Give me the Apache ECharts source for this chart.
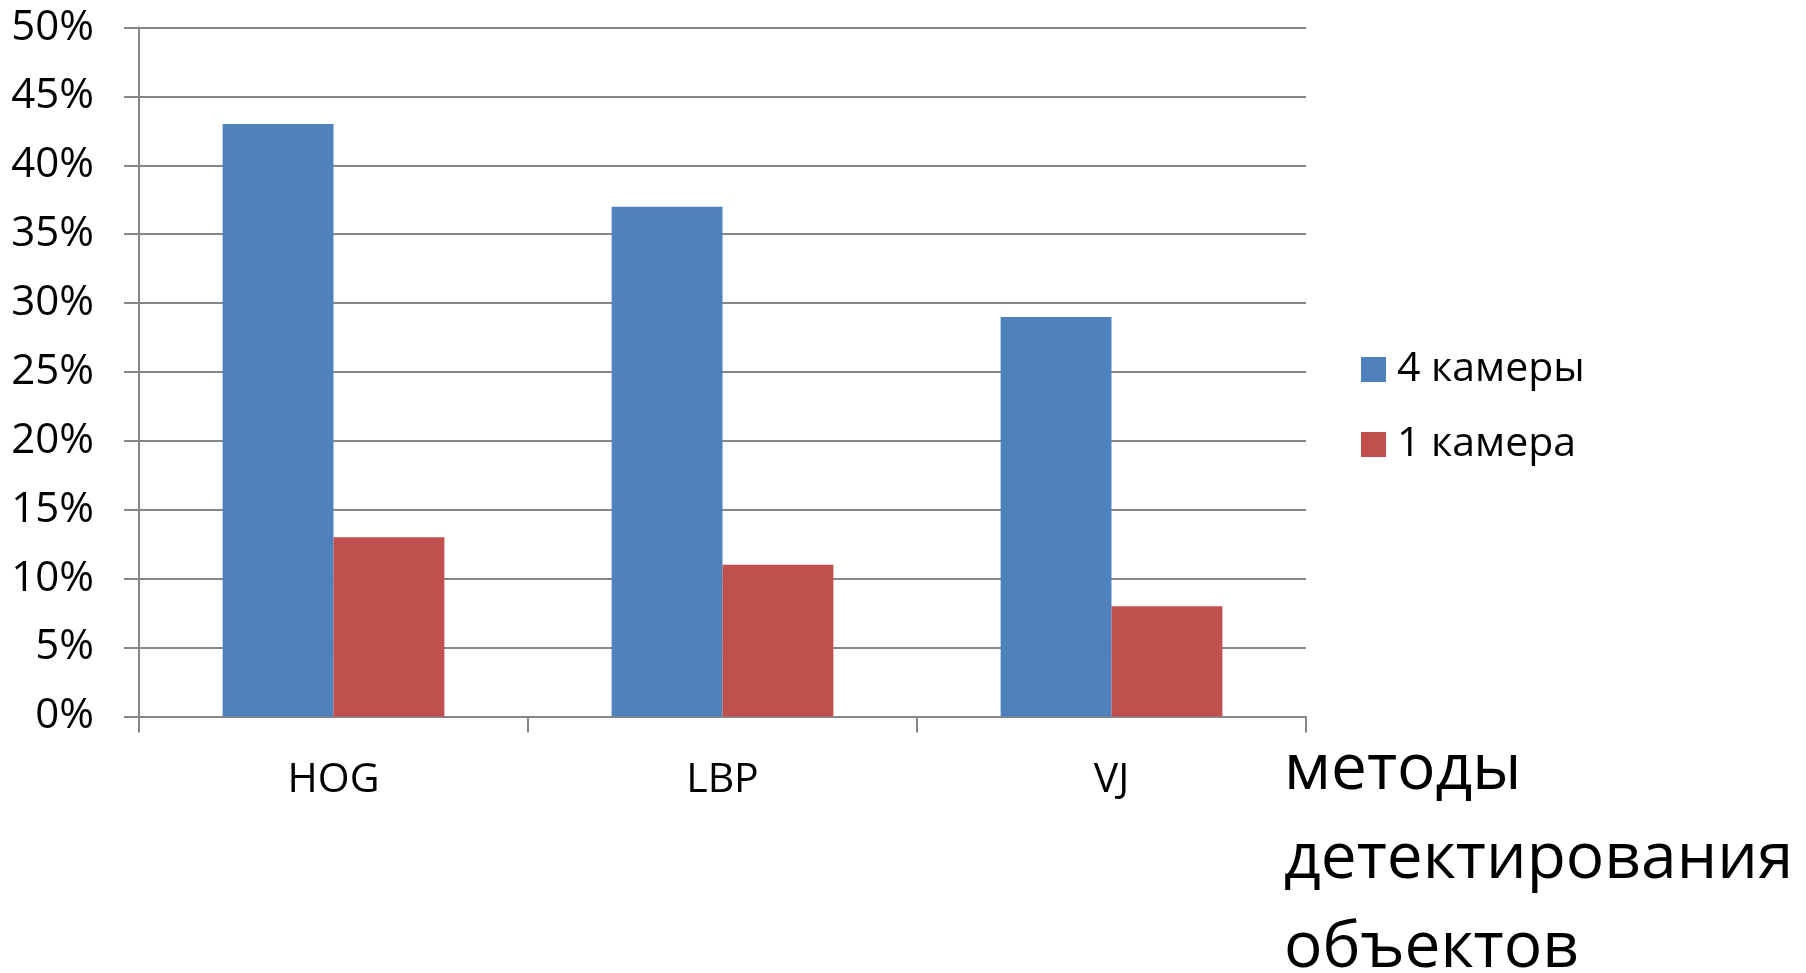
<!DOCTYPE html>
<html><head><meta charset="utf-8">
<script src="https://cdn.jsdelivr.net/npm/echarts@6/dist/echarts.min.js"></script>
<style>html,body{margin:0;padding:0;background:#fff}#c{width:1806px;height:973px}</style>
</head><body><div id="c"></div>
<script>
const categories = ['HOG', 'LBP', 'VJ'];
const seriesNames = ['4 камеры', '1 камера'];
const fourCameras = [0.43, 0.37, 0.29];
const oneCamera = [0.13, 0.11, 0.08];
const axisTitle = 'методы\nдетектирования\nобъектов';

const FONT = '"Open Sans", "Noto Sans", sans-serif';
const chart = echarts.init(document.getElementById('c'));
chart.setOption({
  animation: false,
  textStyle: { fontFamily: FONT },
  grid: { left: 139, right: 500, top: 27.6, bottom: 256.6, containLabel: false, outerBoundsMode: 'none' },
  legend: {
    orient: 'vertical', left: 1356, top: 344,
    itemWidth: 25, itemHeight: 25, itemGap: 34,
    icon: 'rect',
    textStyle: { fontSize: 41, color: '#000', fontFamily: FONT, lineHeight: 40, padding: [0, 0, 0, 6] },
    data: seriesNames
  },
  xAxis: {
    type: 'category', data: categories, boundaryGap: true,
    axisLine: { lineStyle: { color: '#868686', width: 2 } },
    axisTick: { show: true, interval: 0, length: 16, lineStyle: { color: '#868686', width: 2 } },
    axisLabel: { fontSize: 41, color: '#000', margin: 43, fontFamily: FONT },
    name: axisTitle, nameLocation: 'end', nameGap: -22,
    nameTextStyle: { fontSize: 64, lineHeight: 89, color: '#000', align: 'left', verticalAlign: 'top', padding: [10, 0, 0, 0], fontFamily: FONT }
  },
  yAxis: {
    type: 'value', min: 0, max: 0.5, interval: 0.05,
    axisLine: { show: true, lineStyle: { color: '#868686', width: 2 } },
    axisTick: { show: true, length: 15, lineStyle: { color: '#868686', width: 2 } },
    splitLine: { lineStyle: { color: '#868686', width: 2 } },
    axisLabel: { fontSize: 42, color: '#000', margin: 45, fontFamily: FONT,
      formatter: v => Math.round(v * 100) + '%' }
  },
  series: [
    { name: seriesNames[0], type: 'bar', data: fourCameras, barGap: '0%', barCategoryGap: '43%',
      itemStyle: { color: '#4F81BD' } },
    { name: seriesNames[1], type: 'bar', data: oneCamera, barGap: '0%', barCategoryGap: '43%',
      itemStyle: { color: '#C0504D' } }
  ]
});
</script></body></html>
